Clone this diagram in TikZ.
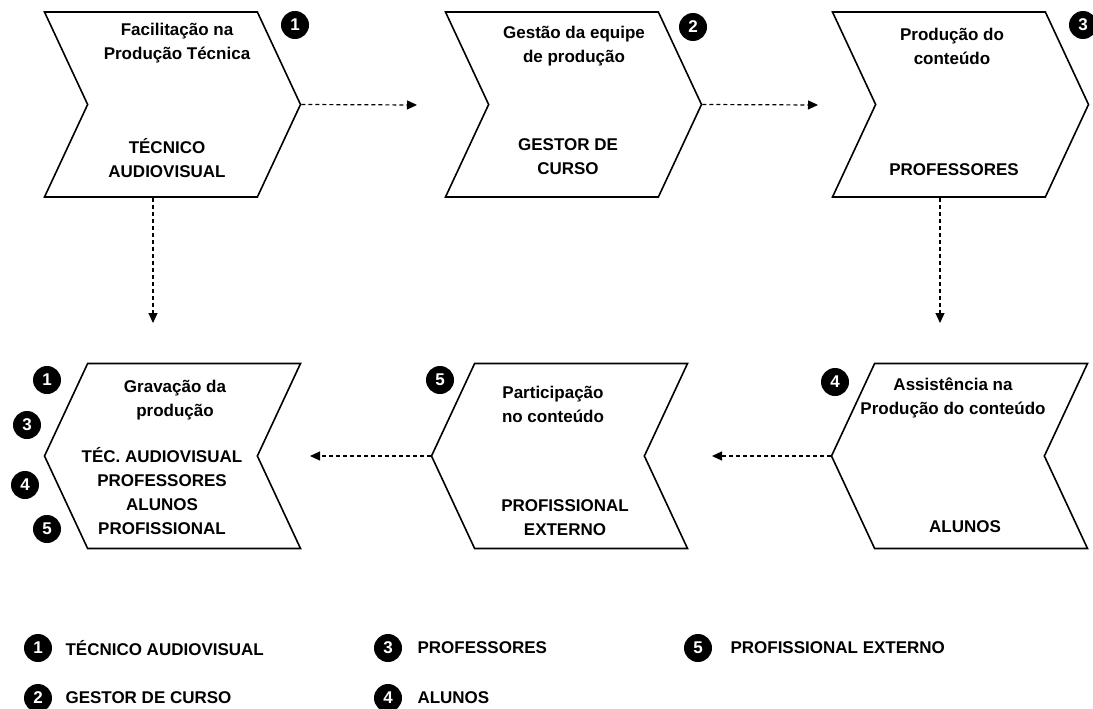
\documentclass[tikz,border=0pt]{standalone}
\usepackage{fontspec}
\setmainfont{Liberation Sans}
\usetikzlibrary{shapes.symbols,arrows.meta}

\begin{document}
\begin{tikzpicture}[x=1pt,y=-1pt,
		chev/.style={draw,line width=1.6pt,signal,signal pointer angle=130,
			minimum width=256pt,minimum height=185pt,inner sep=0pt},
		chevR/.style={chev,signal to=east,signal from=west},
		chevL/.style={chev,signal to=west,signal from=east},
		txt/.style={font=\fontsize{17}{24}\selectfont\bfseries,align=center},
		num/.style={circle,fill=black,text=white,inner sep=0pt,minimum size=28pt,
			font=\fontsize{17}{17}\selectfont\bfseries},
		flow/.style={dash pattern=on 4pt off 3pt,line width=1.2pt,
			-{Triangle[length=10pt,width=9pt]}}]
		\useasboundingbox (0,0) rectangle (1093,709);
			\node[chevR](tecnica) at (172.5,104.5) {};
			\node[chevR](gestao) at (573.5,104.5) {};
			\node[chevR](conteudo) at (960.5,104.5) {};
			\node[chevL](assist) at (959.5,456) {};
			\node[chevL](partic) at (559.5,456) {};
			\node[chevL](gravacao) at (172.5,456) {};
			% textos das etapas
			\node[txt](tecnicaA) at (177,43) {Facilitação na\\Produção Técnica};
			\node[txt](tecnicaB) at (167,158) {TÉCNICO\\AUDIOVISUAL};
			\node[txt](gestaoA) at (574,46) {Gestão da equipe\\de produção};
			\node[txt](gestaoB) at (568,157) {GESTOR DE\\CURSO};
			\node[txt](conteudoA) at (952,46) {Produção do\\conteúdo};
			\node[txt](conteudoB) at (954,170) {PROFESSORES};
			\node[txt](assistA) at (953,398) {Assistência na\\Produção do conteúdo};
			\node[txt](assistB) at (965,527) {ALUNOS};
			\node[txt](particA) at (553,404) {Participação\\no conteúdo};
			\node[txt](particB) at (565,518) {PROFISSIONAL\\EXTERNO};
			\node[txt](gravacaoA) at (175,400) {Gravação da\\produção};
			\node[txt](gravacaoB) at (162,491) {TÉC. AUDIOVISUAL\\PROFESSORES\\ALUNOS\\PROFISSIONAL};
			% numeros
			\node[num](n1) at (295,25) {1};
			\node[num](n2) at (693,27) {2};
			\node[num](n3) at (1083,25) {3};
			\node[num](n4) at (835,382) {4};
			\node[num](n5) at (440,380) {5};
			\node[num](g1) at (47,380) {1};
			\node[num](g3) at (27,425) {3};
			\node[num](g4) at (25,485) {4};
			\node[num](g5) at (47,529) {5};
			% fluxo
			\coordinate (gestaoIn) at (417,105);
			\coordinate (conteudoIn) at (818,105);
			\coordinate (partIn) at (712,456);
			\coordinate (gravIn) at (310,456);
			\coordinate (tecnicaDown) at (153,323);
			\coordinate (conteudoDown) at (940,323);
			\draw[flow] (tecnica.east) -- (gestaoIn);
			\draw[flow] (gestao.east) -- (conteudoIn);
			\draw[flow] (tecnicaDown |- tecnica.south) -- (tecnicaDown);
			\draw[flow] (conteudoDown |- conteudo.south) -- (conteudoDown);
			\draw[flow] (assist.west) -- (partIn);
			\draw[flow] (partic.west) -- (gravIn);
			% legenda
			\node[num](l1) at (38,648) {1};
			\node[txt,anchor=west](l1t) at (62,648) {TÉCNICO AUDIOVISUAL};
			\node[num](l2) at (38,698) {2};
			\node[txt,anchor=west](l2t) at (62,698) {GESTOR DE CURSO};
			\node[num](l3) at (388,648) {3};
			\node[txt,anchor=west](l3t) at (414,648) {PROFESSORES};
			\node[num](l4) at (388,698) {4};
			\node[txt,anchor=west](l4t) at (414,698) {ALUNOS};
			\node[num](l5) at (698,648) {5};
			\node[txt,anchor=west](l5t) at (727,648) {PROFISSIONAL EXTERNO};
\end{tikzpicture}
\end{document}
